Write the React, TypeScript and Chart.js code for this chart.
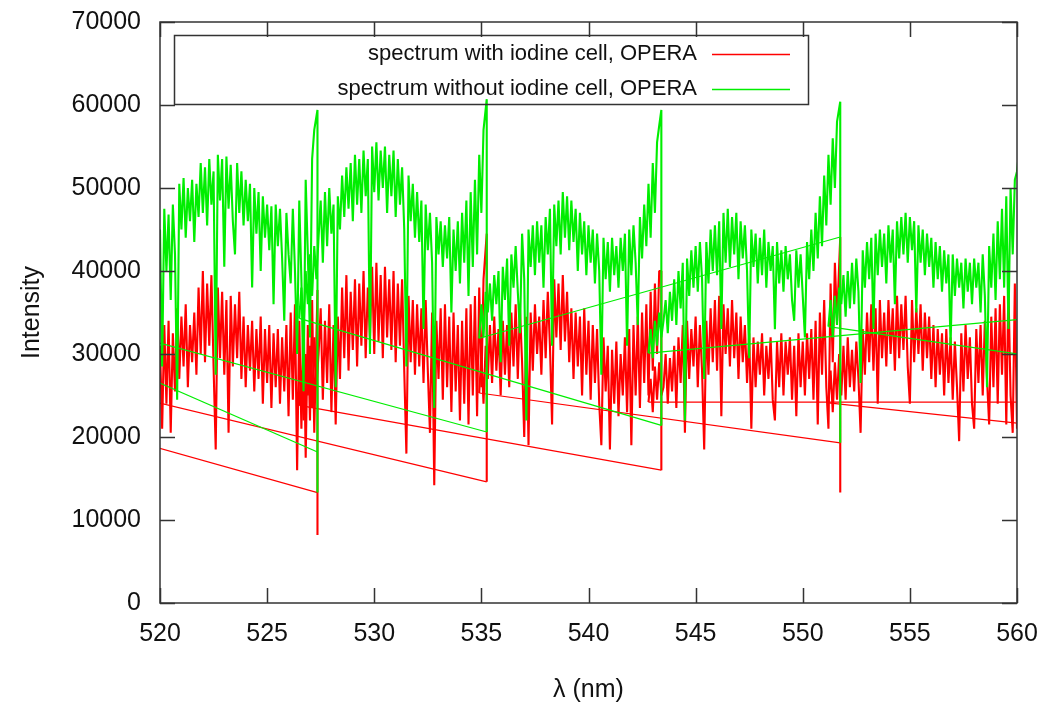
import { useEffect, useRef } from "react";
import { Chart, registerables } from "chart.js";

Chart.register(...registerables);

// ---- axes ----
const X_TICKS = [520, 525, 530, 535, 540, 545, 550, 555, 560];
const Y_TICKS = [0, 10000, 20000, 30000, 40000, 50000, 60000, 70000];
const LEGEND_LABELS = ["spectrum with iodine cell, OPERA", "spectrum without iodine cell, OPERA"];
const RED = "#ff0000";
const GREEN = "#00ee00";

// ---- echelle orders (A..E), wavelength grid in nm ----
const STEP = 0.1;
const ORDER_START = [519.5, 526.5, 534.9, 542.8, 551.2];
const ORDER_END = [527.35, 535.25, 543.4, 551.75, 560.3];

// values at the very end of each order (edge spike and drop)
const GREEN_TAIL = [[59400, 13300, 18200], [60700, 20600], [59400, 21400], [60400, 19300, 44100], [60000, 34200]];
const RED_TAIL = [[37700, 8200, 13300], [44500, 14600], [40000, 16000], [44100, 13300, 19300], [42000, 24200]];

// neighbouring orders outside the plotted range
const GREEN_OUTER_RIGHT = [568.9, 26700];
const GREEN_OUTER_LEFT = [512.0, 35500];
const RED_OUTER_RIGHT = [568.9, 19200];
const RED_OUTER_LEFT = [512.0, 24400];

const GREEN_A = [
  31650, 38000, 34000, 42000, 37000,
  45000, 28500, 47500, 40000, 46800, 36500, 48000, 42000, 24500, 50500,
  45000, 51200, 44000, 50000, 46000, 51000, 43500, 50500, 46500, 53000,
  47000, 52500, 45500, 53500, 48000, 52000, 27500, 54000, 48500, 53500,
  40500, 53800, 47500, 52800, 46000, 42000, 53000, 47000, 52000, 45500,
  51000, 46000, 50500, 38000, 50000, 44500, 49500, 40000, 49000, 44000,
  48000, 42500, 47800, 36000, 48000, 43000, 47500, 41500, 34000, 47000,
  42000, 38500, 47500, 40000, 30000, 48500, 39000, 25500, 51000, 42000,
  32000, 53500, 57000,
];
const RED_A = [
  24400, 28000, 23000, 30000, 25000,
  31000, 21000, 33500, 24000, 34000, 20500, 32500, 25500, 35500, 27000,
  34500, 28500, 36000, 26000, 33500, 29000, 35000, 27500, 38000, 30000,
  40000, 29000, 38500, 31000, 39500, 28500, 18500, 38000, 29500, 37500,
  27500, 36500, 20500, 37000, 28500, 36000, 29500, 37500, 27000, 34500,
  26000, 33500, 28000, 34000, 25500, 33000, 27000, 34500, 24000, 33000,
  26500, 33500, 23500, 32500, 26000, 33000, 24000, 32000, 25500, 33500,
  22500, 35000, 24500, 36000, 16000, 34000, 21000, 35500, 17500, 33500,
  22000, 36500, 20500,
];
const GREEN_B = [
  34300, 38000, 33000, 40000, 36000, 42000, 37000, 43000, 39000,
  44000, 48500, 41000, 49500, 43000, 50000, 44500, 48000, 26000, 49000,
  45000, 51500, 46500, 52500, 47500, 53000, 46000, 54000, 48000, 53500,
  47000, 54500, 49000, 53500, 30000, 55000, 49500, 55500, 48500, 54500,
  50000, 55000, 47000, 54000, 49000, 54500, 46500, 53500, 48000, 52500,
  45000, 28500, 51500, 46000, 50500, 44000, 49500, 43500, 48500, 33000,
  48000, 42500, 47000, 41000, 23500, 46500, 42000, 46000, 40500, 45500,
  41500, 46500, 35000, 45000, 40000, 46000, 38500, 47000, 41000, 48500,
  37000, 49500, 40500, 51000, 42000, 54000, 47000, 57000,
];
const RED_B = [
  23800, 28000, 22000, 30000, 25000, 31000, 23500, 32000, 26000,
  30000, 35500, 24500, 34000, 26500, 36000, 23000, 33500, 21500, 34500,
  27000, 38000, 29500, 39500, 28000, 37500, 30500, 39000, 28500, 38500,
  31000, 40000, 29500, 38000, 32000, 40500, 30000, 41000, 31500, 39500,
  29500, 40500, 32000, 39000, 30500, 40000, 29000, 38500, 31000, 39000,
  28000, 18000, 37000, 29000, 36500, 27500, 36000, 28500, 35500, 26500,
  36500, 28000, 20500, 35000, 14200, 34000, 27000, 35500, 24500, 36000,
  26000, 34500, 23000, 35000, 25500, 33500, 22000, 34000, 24000, 35500,
  21500, 36000, 25000, 37000, 22500, 38000, 26000, 39000,
];
const GREEN_C = [
  31900, 36000, 32000, 37500,
  35000, 38500, 34000, 39500, 36000, 40000, 29000, 40500, 36500, 41500,
  31000, 42000, 38000, 43000, 37500, 32500, 44500, 39000, 22000, 45000,
  40500, 45500, 39500, 46000, 41000, 45500, 38000, 46500, 42000, 47500,
  31000, 48000, 43000, 48500, 42000, 49500, 44000, 49000, 42500, 48500,
  43500, 47500, 40000, 47000, 42000, 46000, 39500, 45500, 41000, 45000,
  38500, 44500, 40000, 27500, 44000, 39000, 43500, 37500, 44000, 39500,
  43000, 38000, 44000, 40000, 44500, 31000, 45000, 39500, 45500, 41000,
  33500, 46500, 41500, 48000, 43000, 50500, 44000, 53000, 47000, 55500,
  57500,
];
const RED_C = [
  25300, 30000, 24000, 31000,
  27000, 33500, 26500, 34500, 28000, 33000, 25000, 34000, 27500, 33500,
  26000, 35000, 28500, 36000, 27000, 35500, 29000, 20000, 34500, 19000,
  35000, 28000, 36000, 30000, 34500, 27500, 36500, 29500, 37500, 31000,
  21500, 39000, 32000, 38500, 30500, 39500, 31500, 37500, 29000, 35500,
  27000, 35000, 28500, 34500, 25000, 35500, 27500, 34000, 24500, 33500,
  26500, 33000, 24000, 19000, 32000, 25500, 31000, 18500, 30500, 24000,
  31500, 22500, 30000, 25000, 32000, 23000, 33000, 19000, 33500, 25000,
  34500, 23500, 35000, 26500, 36000, 25000, 37500, 28000, 38500, 30000,
  40000,
];
const GREEN_D = [
  30100, 33000, 29500, 34000, 31000, 35000, 32000,
  34000, 36500, 32500, 37500, 34000, 39000, 33500, 40000, 35500, 41000,
  22000, 41500, 37000, 42500, 38000, 43000, 37500, 43500, 39000, 27000,
  43500, 38500, 45000, 40000, 45500, 39500, 46000, 33000, 47000, 41000,
  47500, 40500, 46500, 42000, 47000, 39000, 46000, 41500, 45500, 40000,
  29500, 45000, 40500, 44500, 38500, 44000, 39500, 45000, 38000, 43500,
  40000, 43000, 33000, 43500, 38500, 42500, 37500, 43000, 39000, 42000,
  36500, 34000, 42500, 38000, 42000, 37000, 32000, 43500, 39000, 45000,
  40000, 47000, 41500, 49000, 43000, 51500, 45500, 54000, 48000, 56000,
  50000, 58000,
];
const RED_D = [
  24200, 27000, 23000, 28500, 24500, 29000, 25000,
  26000, 30000, 24000, 29500, 25500, 31000, 23500, 32000, 26500, 33500,
  20500, 34000, 27000, 33000, 28500, 34500, 26000, 33500, 28000, 18500,
  34000, 27500, 35500, 29000, 36500, 28000, 37000, 22500, 36000, 30000,
  35500, 28500, 36500, 29500, 35000, 27000, 34500, 29000, 33500, 26500,
  32500, 21000, 32000, 26000, 31500, 27500, 32500, 25000, 31000, 27000,
  32000, 24500, 22000, 31500, 26000, 32500, 25000, 31500, 27500, 32000,
  24500, 31000, 22500, 32500, 26000, 31500, 25000, 32500, 27000, 33000,
  24500, 34000, 21500, 35000, 27500, 36500, 26000, 21000, 38500, 29000,
  41000, 34000,
];
const GREEN_E = [
  33300, 36500, 32000, 37000, 33500, 38000,
  36000, 39500, 34500, 40000, 35500, 41000, 36000, 41500, 37500, 26500,
  42500, 38000, 43500, 39000, 44000, 33000, 44500, 39500, 45000, 40500,
  44500, 38500, 45500, 41000, 45000, 36000, 46000, 41500, 46500, 42000,
  47000, 41000, 46500, 42500, 46000, 35000, 45500, 41000, 45000, 39500,
  44500, 40500, 44000, 38000, 43500, 39000, 43000, 37500, 42500, 38500,
  42000, 31000, 42000, 37000, 41500, 38000, 41000, 35500, 41500, 37500,
  41000, 36000, 41500, 38000, 41000, 35000, 42000, 37000, 26000, 43000,
  38000, 44500, 36500, 46000, 39000, 47500, 38000, 49000, 33000, 50000,
  42000, 51000, 52000, 54500, 57000,
];
const RED_E = [
  24100, 28000, 23000, 29000, 24500, 30000,
  25000, 31000, 24500, 32000, 26000, 30500, 25500, 31500, 27000, 20500,
  33000, 27500, 35000, 29000, 36000, 28000, 35500, 24000, 36500, 29500,
  35000, 28500, 36500, 30000, 35500, 28000, 37000, 29500, 36000, 30500,
  37000, 28500, 24000, 36500, 29000, 35500, 30000, 36000, 28000, 35000,
  29500, 34500, 27000, 33500, 26000, 33000, 27500, 32500, 25000, 33000,
  26500, 32000, 24500, 31500, 26000, 19500, 32500, 25500, 33500, 27000,
  32000, 24000, 21000, 33000, 26500, 33500, 25000, 34000, 27000, 21500,
  34500, 26000, 35500, 24000, 36000, 27500, 37000, 21500, 38000, 25000,
  20500, 38500, 21000, 39500, 41000,
];

const GREEN_ORDERS = [GREEN_A, GREEN_B, GREEN_C, GREEN_D, GREEN_E];
const RED_ORDERS = [RED_A, RED_B, RED_C, RED_D, RED_E];

type Pt = { x: number; y: number };

// Points in file order: orders listed from the red end to the blue end, so the
// plotted line jumps between the end of one order and the start of the next.
function buildSeries(orders: number[][], tails: number[][], outerRight: number[], outerLeft: number[]): Pt[] {
  const pts: Pt[] = [{ x: outerRight[0], y: outerRight[1] }];
  for (let o = orders.length - 1; o >= 0; o--) {
    orders[o].forEach((v, i) => pts.push({ x: +(ORDER_START[o] + i * STEP).toFixed(2), y: v }));
    tails[o].forEach((v) => pts.push({ x: ORDER_END[o], y: v }));
  }
  pts.push({ x: outerLeft[0], y: outerLeft[1] });
  return pts;
}

const FONT = '"Liberation Sans", Arial, sans-serif';

const framePlugin = {
  id: "gnuplotFrame",
  afterDraw(chart: any) {
    const { ctx, chartArea, scales } = chart;
    const { left, right, top, bottom } = chartArea;
    const xs = scales.x;
    const ys = scales.y;
    ctx.save();
    ctx.strokeStyle = "#333";
    ctx.lineWidth = 1.5;
    ctx.beginPath();
    Y_TICKS.forEach((v) => {
      const py = Math.round(ys.getPixelForValue(v)) + 0.5;
      ctx.moveTo(left, py);
      ctx.lineTo(left + 15, py);
      ctx.moveTo(right - 15, py);
      ctx.lineTo(right, py);
    });
    X_TICKS.forEach((v) => {
      const px = Math.round(xs.getPixelForValue(v)) + 0.5;
      ctx.moveTo(px, bottom);
      ctx.lineTo(px, bottom - 15);
      ctx.moveTo(px, top);
      ctx.lineTo(px, top + 15);
    });
    ctx.stroke();
    ctx.strokeRect(left, top, right - left, bottom - top);

    // key box
    ctx.strokeRect(174.5, 35.5, 634, 69);
    ctx.font = `22px ${FONT}`;
    ctx.textAlign = "right";
    ctx.textBaseline = "middle";
    ctx.fillStyle = "#111";
    const colors = [RED, GREEN];
    LEGEND_LABELS.forEach((label, i) => {
      const ly = 54 + i * 35;
      ctx.fillText(label, 697, ly);
      ctx.strokeStyle = colors[i];
      ctx.lineWidth = 1.5;
      ctx.beginPath();
      ctx.moveTo(712, ly + 0.5);
      ctx.lineTo(790, ly + 0.5);
      ctx.stroke();
    });
    ctx.restore();
  },
};

// thin lines for the long jumps between orders, denser strokes inside an order
const segWidth = (ctx: any) => (Math.abs(ctx.p1.parsed.x - ctx.p0.parsed.x) > 0.3 ? 1.2 : 2.1);

export default function App() {
  const canvasRef = useRef<HTMLCanvasElement | null>(null);

  useEffect(() => {
    document.body.style.margin = "0";
    const canvas = canvasRef.current;
    if (!canvas) return;
    const green = buildSeries(GREEN_ORDERS, GREEN_TAIL, GREEN_OUTER_RIGHT, GREEN_OUTER_LEFT);
    const red = buildSeries(RED_ORDERS, RED_TAIL, RED_OUTER_RIGHT, RED_OUTER_LEFT);

    const tickFont = { family: FONT, size: 25 };
    const zeroPad = (s: any) => {
      s.paddingTop = 0;
      s.paddingBottom = 0;
      s.paddingLeft = 0;
      s.paddingRight = 0;
    };
    const chart = new Chart(canvas, {
      type: "scatter",
      data: {
        datasets: [
          {
            label: LEGEND_LABELS[1],
            data: green,
            showLine: true,
            borderColor: GREEN,
            backgroundColor: GREEN,
            borderWidth: 1.5,
            borderJoinStyle: "bevel",
            segment: { borderWidth: segWidth },
            pointRadius: 0,
            tension: 0,
            order: 0,
          },
          {
            label: LEGEND_LABELS[0],
            data: red,
            showLine: true,
            borderColor: RED,
            backgroundColor: RED,
            borderWidth: 1.5,
            borderJoinStyle: "bevel",
            segment: { borderWidth: segWidth },
            pointRadius: 0,
            tension: 0,
            order: 1,
          },
        ],
      },
      options: {
        animation: false,
        responsive: false,
        devicePixelRatio: 1,
        layout: { padding: { left: 0, top: 22, right: 34, bottom: 0 } },
        plugins: {
          legend: { display: false },
          tooltip: { enabled: false },
        },
        scales: {
          x: {
            type: "linear",
            min: 520,
            max: 560,
            grid: { display: false, drawTicks: false },
            border: { display: false },
            ticks: {
              stepSize: 5,
              autoSkip: false,
              maxRotation: 0,
              padding: 16,
              color: "#111",
              font: tickFont,
              callback: (v: any) => String(v),
            },
            title: {
              display: true,
              text: "λ (nm)",
              color: "#111",
              font: tickFont,
              padding: { top: 0, bottom: 4 },
            },
            afterFit: (s: any) => {
              s.height = 106;
              zeroPad(s);
            },
          },
          y: {
            type: "linear",
            min: 0,
            max: 70000,
            grid: { display: false, drawTicks: false },
            border: { display: false },
            ticks: {
              stepSize: 10000,
              padding: 19,
              color: "#111",
              font: tickFont,
              callback: (v: any) => String(v),
            },
            title: {
              display: true,
              text: "Intensity",
              color: "#111",
              font: tickFont,
              padding: { top: 17, bottom: 0 },
            },
            afterFit: (s: any) => {
              s.width = 160;
              zeroPad(s);
            },
          },
        },
      },
      plugins: [framePlugin],
    } as any);
    return () => chart.destroy();
  }, []);

  return (
    <div style={{ position: "absolute", left: 0, top: 0, width: 1051, height: 709, background: "#fff" }}>
      <canvas ref={canvasRef} width={1051} height={709} />
    </div>
  );
}
